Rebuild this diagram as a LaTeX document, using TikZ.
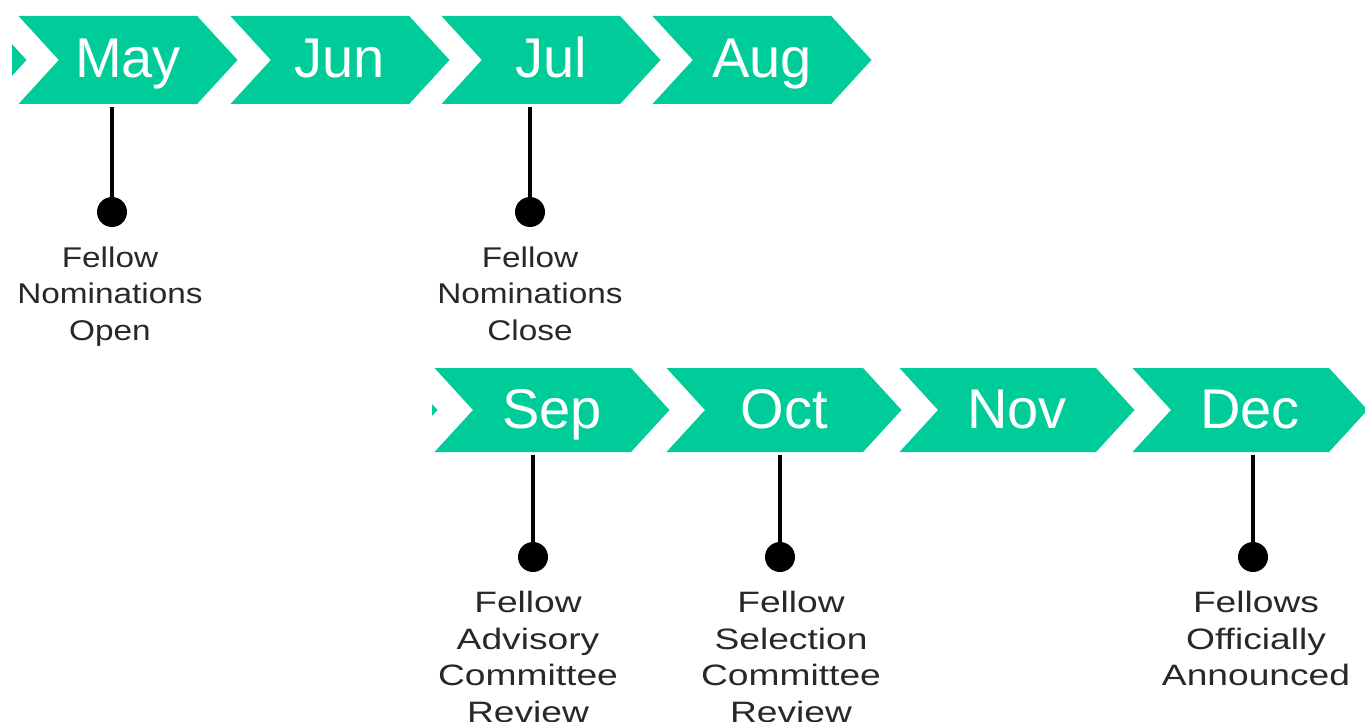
\documentclass[tikz,border=0pt]{standalone}
\usepackage{fontspec}
\usetikzlibrary{shapes.symbols,positioning}
\setmainfont{Liberation Sans}
\newfontfamily\monthfont{Liberation Sans}
\newfontfamily\topcapfont[FakeStretch=1.17]{Liberation Sans}
\newfontfamily\lowcapfont[FakeStretch=1.26]{Liberation Sans}
\definecolor{chevgreen}{RGB}{0,204,153}
\definecolor{capgray}{RGB}{40,40,40}

\begin{document}
\begin{tikzpicture}[x=1pt,y=-1pt,
    month/.style={signal, signal from=west, signal to=east, signal pointer angle=95,
        fill=chevgreen, text=white, inner sep=0pt, text height=44pt, text depth=8pt,
        font=\monthfont\fontsize{56}{60}\selectfont},
    toprow/.style={month, minimum width=219pt, minimum height=88pt},
    lowrow/.style={month, minimum width=235pt, minimum height=84pt},
    dot/.style={circle, fill=black, inner sep=0pt, minimum size=30pt},
    stem/.style={line width=4.5pt, shorten <=3pt},
    topcap/.style={align=center, inner sep=0pt, text=capgray,
        font=\topcapfont\fontsize{28.5}{36.5}\selectfont},
    lowcap/.style={align=center, inner sep=0pt, text=capgray,
        font=\lowcapfont\fontsize{29.5}{36.5}\selectfont}]
    \useasboundingbox (0,0) rectangle (1365,722);

    % first row
    \begin{scope}
        \clip (12,0) rectangle (200,120);
        \node[toprow] (toptail) at (-83,60) {};
    \end{scope}
    \node[toprow] (may) at (128,60) {May};
    \node[toprow] (jun) at (340,60) {Jun};
    \node[toprow] (jul) at (551,60) {Jul};
    \node[toprow] (aug) at (762,60) {Aug};

    % second row
    \begin{scope}
        \clip (432,350) rectangle (600,470);
        \node[lowrow] (lowtail) at (320,410) {};
    \end{scope}
    \node[lowrow] (sep) at (552,410) {Sep};
    \node[lowrow] (oct) at (784,410) {Oct};
    \node[lowrow] (nov) at (1017,410) {Nov};
    \node[lowrow] (dec) at (1250,410) {Dec};

    % milestones
    \node[dot] (maydot) at (112,212) {};
    \node[dot] (juldot) at (530,212) {};
    \node[dot] (sepdot) at (533,557) {};
    \node[dot] (octdot) at (780,557) {};
    \node[dot] (decdot) at (1253,557) {};
    \draw[stem] (may.south -| maydot) -- (maydot);
    \draw[stem] (jul.south -| juldot) -- (juldot);
    \draw[stem] (sep.south -| sepdot) -- (sepdot);
    \draw[stem] (oct.south -| octdot) -- (octdot);
    \draw[stem] (dec.south -| decdot) -- (decdot);

    \node[topcap, below=19pt of maydot, xshift=-2pt] (maycap) {Fellow\\Nominations\\Open};
    \node[topcap, below=19pt of juldot] (julcap) {Fellow\\Nominations\\Close};
    \node[lowcap, below=19pt of sepdot, xshift=-5pt] (sepcap) {Fellow\\Advisory\\Committee\\Review};
    \node[lowcap, below=19pt of octdot, xshift=11pt] (octcap) {Fellow\\Selection\\Committee\\Review};
    \node[lowcap, below=19pt of decdot, xshift=3pt] (deccap) {Fellows\\Officially\\Announced};
\end{tikzpicture}
\end{document}
